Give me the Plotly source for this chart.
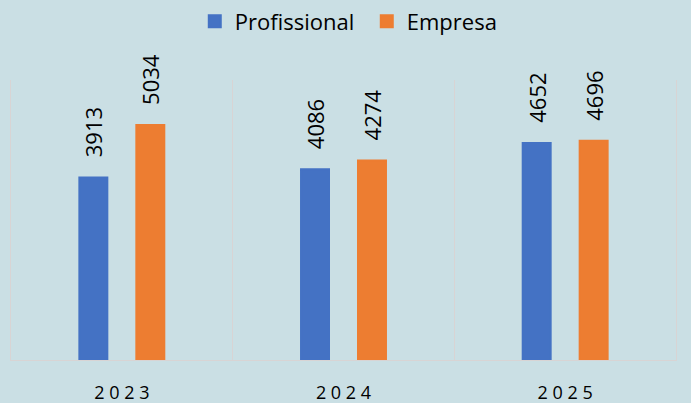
import plotly.graph_objects as go

years = ["2023", "2024", "2025"]
year_labels = ["2 0 2 3", "2 0 2 4", "2 0 2 5"]
profissional = [3913, 4086, 4652]
empresa = [5034, 4274, 4696]

FONT = "Open Sans"
PAD = "\u00a0\u00a0\u00a0"
LINE = "#d8d4d4"
BLUE = "#4472C4"
ORANGE = "#ED7D31"

fig = go.Figure()
fig.add_trace(go.Bar(
    name="Profissional", x=years, y=profissional,
    marker=dict(color=BLUE, line=dict(color=BLUE, width=2)),
    text=[PAD + str(v) for v in profissional], textposition="outside",
    textangle=-90, constraintext="none", cliponaxis=False,
    textfont=dict(family=FONT, size=22, color="#000000"),
))
fig.add_trace(go.Bar(
    name="Empresa", x=years, y=empresa,
    marker=dict(color=ORANGE, line=dict(color=ORANGE, width=2)),
    text=[PAD + str(v) for v in empresa], textposition="outside",
    textangle=-90, constraintext="none", cliponaxis=False,
    textfont=dict(family=FONT, size=22, color="#000000"),
))

fig.update_layout(
    width=691, height=403,
    margin=dict(l=11, r=15, t=80, b=43, autoexpand=False),
    paper_bgcolor="#cadfe4",
    plot_bgcolor="rgba(0,0,0,0)",
    barmode="group",
    bargap=0.486,
    bargroupgap=0.509,
    font=dict(family=FONT, color="#000000"),
    showlegend=True,
    legend=dict(
        orientation="h", x=0.535, xanchor="center", y=0.947, yanchor="middle",
        yref="container", font=dict(family=FONT, size=22, color="#000000"),
        bgcolor="rgba(0,0,0,0)", itemwidth=30,
        entrywidth=127, entrywidthmode="pixels",
    ),
    xaxis=dict(
        type="category", tickson="boundaries", showgrid=True, automargin=False,
        gridcolor=LINE, gridwidth=1,
        showline=True, linecolor=LINE, linewidth=1,
        ticks="", tickmode="array", tickvals=years, ticktext=year_labels,
        tickfont=dict(family=FONT, size=18, color="#000000"),
        ticklabelstandoff=16,
    ),
    yaxis=dict(range=[0, 6000], showticklabels=False, showgrid=False,
               zeroline=False, ticks="", automargin=False,
               showline=True, mirror=True, linecolor=LINE, linewidth=1),
)

fig.write_html(
    "out.html",
    config={"displayModeBar": False},
    post_script="document.body.style.margin='0';document.body.style.padding='0';"
                "document.documentElement.style.background='#cadfe4';",
)
